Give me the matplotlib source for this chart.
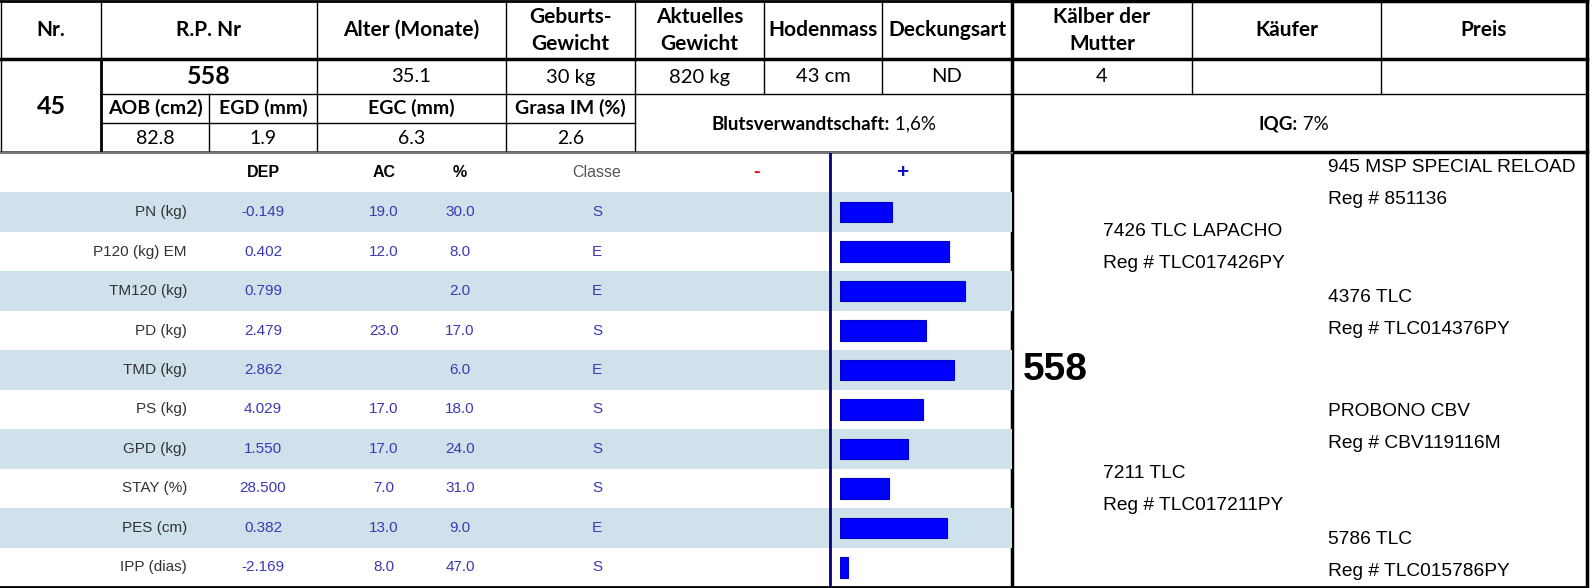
import matplotlib
matplotlib.use("Agg")
import matplotlib.pyplot as plt

# Daten
kopf = ["Nr.", "R.P. Nr", "Alter (Monate)", "Geburts-\nGewicht", "Aktuelles\nGewicht",
        "Hodenmass", "Deckungsart", "Kälber der\nMutter", "Käufer", "Preis"]
tier_nr = "45"
werte = ["558", "35.1", "30 kg", "820 kg", "43 cm", "ND", "4", "", ""]
unter_kopf = ["AOB (cm2)", "EGD (mm)", "EGC (mm)", "Grasa IM (%)"]
unter_werte = ["82.8", "1.9", "6.3", "2.6"]
blut = ("Blutsverwandtschaft:", " 1,6%")
iqg = ("IQG:", " 7%")

merkmale = ["PN (kg)", "P120 (kg) EM", "TM120 (kg)", "PD (kg)", "TMD (kg)",
            "PS (kg)", "GPD (kg)", "STAY (%)", "PES (cm)", "IPP (dias)"]
dep = ["-0.149", "0.402", "0.799", "2.479", "2.862", "4.029", "1.550", "28.500", "0.382", "-2.169"]
ac = ["19.0", "12.0", "", "23.0", "", "17.0", "17.0", "7.0", "13.0", "8.0"]
prozent = ["30.0", "8.0", "2.0", "17.0", "6.0", "18.0", "24.0", "31.0", "9.0", "47.0"]
klasse = ["S", "E", "E", "S", "E", "S", "S", "S", "E", "S"]
balken = [20, 42, 48, 33, 44, 32, 26, 19, 41, 3]

tier = "558"
eltern = ["7426 TLC LAPACHO", "7211 TLC"]
eltern_reg = ["Reg # TLC017426PY", "Reg # TLC017211PY"]
grosseltern = ["945 MSP SPECIAL RELOAD", "4376 TLC", "PROBONO CBV", "5786 TLC"]
grosseltern_reg = ["Reg # 851136", "Reg # TLC014376PY", "Reg # CBV119116M", "Reg # TLC015786PY"]

# Layout (Pixel)
W, H = 1594, 588
CAL = ["Lato", "DejaVu Sans"]
ARI = ["Liberation Sans", "DejaVu Sans"]
PED = ["Liberation Sans", "DejaVu Sans"]
spalten = [1, 101, 317, 506, 635, 764, 882, 1012, 1192, 1381, 1587]
unter_spalten = [101, 209, 317, 506, 635]
y_kopf, y_r2, y_r3, y_r4 = 59, 94, 123, 152
oben, unten = 153, 587
streifen = "#cfe2ec"
wert_farbe = "#3a3ab4"

fig = plt.figure(figsize=(W / 100, H / 100), dpi=100)
base = fig.add_axes([0, 0, 1, 1])
base.set_xlim(0, W)
base.set_ylim(H, 0)
base.axis("off")


def px_rect(x0, y0, x1, y1):
    return [x0 / W, 1 - y1 / H, (x1 - x0) / W, (y1 - y0) / H]


def linie(x0, y0, x1, y1, lw=1.0, c="black"):
    base.plot([x0, x1], [y0, y1], color=c, lw=lw, solid_capstyle="projecting", zorder=5)


# Kopftabelle
for i, k in enumerate(kopf):
    xc = (spalten[i] + spalten[i + 1]) / 2
    zeilen = k.split("\n")
    if len(zeilen) == 1:
        base.text(xc, 30, zeilen[0], ha="center", va="center", fontsize=15,
                  fontweight="bold", family=CAL)
    else:
        base.text(xc, 17, zeilen[0], ha="center", va="center", fontsize=15,
                  fontweight="bold", family=CAL)
        base.text(xc, 44, zeilen[1], ha="center", va="center", fontsize=15,
                  fontweight="bold", family=CAL)

base.text(51, 106, tier_nr, ha="center", va="center", fontsize=18, fontweight="bold", family=CAL)
for i, v in enumerate(werte):
    xc = (spalten[i + 1] + spalten[i + 2]) / 2
    if i == 0:
        base.text(xc, 76, v, ha="center", va="center", fontsize=18, fontweight="bold", family=CAL)
    else:
        base.text(xc, 77, v, ha="center", va="center", fontsize=14.5, family=CAL)

for i in range(4):
    xc = (unter_spalten[i] + unter_spalten[i + 1]) / 2
    base.text(xc, 108, unter_kopf[i], ha="center", va="center", fontsize=14,
              fontweight="bold", family=CAL)
    base.text(xc, 138, unter_werte[i], ha="center", va="center", fontsize=14, family=CAL)

renderer = fig.canvas.get_renderer()


def gemischt(xc, yc, teile, size):
    t1 = base.text(0, yc, teile[0], ha="left", va="center", fontsize=size,
                   fontweight="bold", family=CAL)
    t2 = base.text(0, yc, teile[1], ha="left", va="center", fontsize=size, family=CAL)
    w1 = t1.get_window_extent(renderer).width
    w2 = t2.get_window_extent(renderer).width
    x = xc - (w1 + w2) / 2
    t1.set_x(x)
    t2.set_x(x + w1)


gemischt((635 + 1012) / 2, 124, blut, 13.5)
gemischt((1012 + 1587) / 2 - 6, 124, iqg, 13.5)

# Linien der Kopftabelle
linie(0, 1, 1587, 1, 2)
linie(1012, 1, 1587, 1, 2.5)
linie(0, y_kopf, 1587, y_kopf, 2.5)
linie(101, y_r2, 1587, y_r2, 1)
linie(101, y_r3, 635, y_r3, 1)
linie(0, y_r4, 1012, y_r4, 2, "#555555")
linie(1012, y_r4, 1587, y_r4, 2.5)
linie(1, 1, 1, y_r4, 1)
for x in [317, 506, 635]:
    linie(x, 1, x, y_r4, 1)
linie(101, 1, 101, y_kopf, 1)
linie(101, y_kopf, 101, y_r4, 2)
linie(209, y_r2, 209, y_r4, 1)
for x in [764, 882, 1192, 1381]:
    linie(x, 1, x, y_r2, 1)
linie(1012, 1, 1012, unten, 2.5)
linie(1587, 1, 1587, unten, 2.5)

# Merkmalstabelle
chart = fig.add_axes(px_rect(0, oben, 1012, unten))
chart.set_xlim(0, 1012)
chart.set_ylim(len(merkmale) - 0.5, -1.5)
chart.axis("off")
for i in range(0, len(merkmale), 2):
    chart.axhspan(i - 0.5, i + 0.5, color=streifen, lw=0, zorder=0)

chart.text(263, -1, "DEP", ha="center", va="center", fontsize=11.5, fontweight="bold", family=ARI)
chart.text(384, -1, "AC", ha="center", va="center", fontsize=11.5, fontweight="bold", family=ARI)
chart.text(460, -1, "%", ha="center", va="center", fontsize=11.5, fontweight="bold", family=ARI)
chart.text(597, -1, "Classe", ha="center", va="center", fontsize=11.5, color="#555555", family=ARI)
chart.text(757, -1, "-", ha="center", va="center", fontsize=14, fontweight="bold",
           color="#e00000", family=ARI)
chart.text(902, -1, "+", ha="center", va="center", fontsize=15, fontweight="bold",
           color="#1010c0", family=ARI)

for i in range(len(merkmale)):
    chart.text(187, i, merkmale[i], ha="right", va="center", fontsize=11,
               color="#333333", family=ARI)
    chart.text(263, i, dep[i], ha="center", va="center", fontsize=11, color=wert_farbe, family=ARI)
    chart.text(384, i, ac[i], ha="center", va="center", fontsize=11, color=wert_farbe, family=ARI)
    chart.text(460, i, prozent[i], ha="center", va="center", fontsize=11, color=wert_farbe, family=ARI)
    chart.text(597, i, klasse[i], ha="center", va="center", fontsize=11, color=wert_farbe, family=ARI)

chart.axvline(830, color="#000080", lw=2, zorder=3)

bars = fig.add_axes(px_rect(840, oben, 1012, unten), sharey=chart)
bars.set_xlim(0, 172 / 2.6)
bars.barh(range(len(balken)), balken, height=0.52, color="#0000ff",
          edgecolor="#0000c8", lw=0.8, zorder=3)
bars.axis("off")

linie(0, oben, 1012, oben, 1.5, "#777777")
linie(0, unten, 1587, unten, 2)

# Stammbaum
base.text(1023, 370, tier, ha="left", va="center", fontsize=28, fontweight="bold", family=ARI)
y_eltern = [248, 490]
y_grosseltern = [184, 313, 428, 555]
for i in range(2):
    base.text(1103, y_eltern[i] - 16, eltern[i], ha="left", va="center", fontsize=13.8, family=PED)
    base.text(1103, y_eltern[i] + 16, eltern_reg[i], ha="left", va="center", fontsize=13.8, family=PED)
for i in range(4):
    base.text(1328, y_grosseltern[i] - 16, grosseltern[i], ha="left", va="center",
              fontsize=13.8, family=PED)
    base.text(1328, y_grosseltern[i] + 16, grosseltern_reg[i], ha="left", va="center",
              fontsize=13.8, family=PED)

fig.savefig("out.png", dpi=100)
